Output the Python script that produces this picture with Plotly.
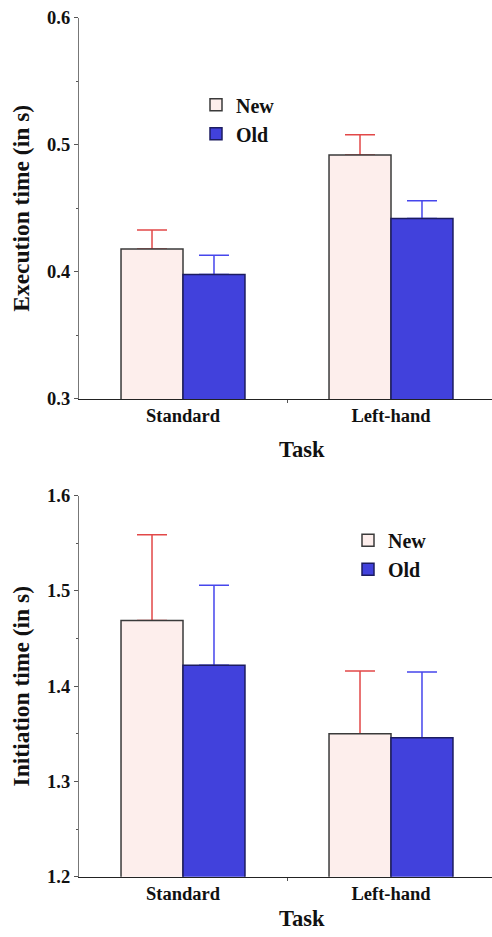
import plotly.graph_objects as go

tasks = ["Standard", "Left-hand"]
x_pos = [0, 1]
groups = ["New", "Old"]

exec_new = [0.418, 0.492]
exec_old = [0.398, 0.442]
exec_new_err = [0.015, 0.016]
exec_old_err = [0.015, 0.014]

init_new = [1.469, 1.350]
init_old = [1.422, 1.346]
init_new_err = [0.090, 0.066]
init_old_err = [0.084, 0.069]

FONT = "Liberation Serif, Times New Roman, serif"
NEW_FILL = "#fdeeec"
NEW_LINE = "#3a3a3a"
OLD_FILL = "#4141dc"
OLD_LINE = "#1c1c60"
NEW_ERR = "#e24848"
OLD_ERR = "#4646ec"

fig = go.Figure()


def add_err(vals, errs, group, errc, xa, ya):
    # error bars drawn underneath the visible bars so only the upper whisker shows
    fig.add_trace(go.Bar(
        x=x_pos, y=vals, name=group, xaxis=xa, yaxis=ya, offsetgroup=group,
        showlegend=False, hoverinfo="skip",
        marker=dict(color="rgba(0,0,0,0)", line=dict(width=0)),
        error_y=dict(type="data", symmetric=False, array=errs,
                     arrayminus=[0] * len(errs), color=errc,
                     thickness=1.5, width=15),
    ))


def add_bars(vals, group, fill, line, xa, ya, legend):
    fig.add_trace(go.Bar(
        x=x_pos, y=vals, name=group, xaxis=xa, yaxis=ya, legend=legend,
        offsetgroup=group,
        marker=dict(color=fill, line=dict(color=line, width=1.5)),
    ))


add_err(exec_new, exec_new_err, "New", NEW_ERR, "x", "y")
add_err(exec_old, exec_old_err, "Old", OLD_ERR, "x", "y")
add_bars(exec_new, "New", NEW_FILL, NEW_LINE, "x", "y", "legend")
add_bars(exec_old, "Old", OLD_FILL, OLD_LINE, "x", "y", "legend")

add_err(init_new, init_new_err, "New", NEW_ERR, "x2", "y2")
add_err(init_old, init_old_err, "Old", OLD_ERR, "x2", "y2")
add_bars(init_new, "New", NEW_FILL, NEW_LINE, "x2", "y2", "legend2")
add_bars(init_old, "Old", OLD_FILL, OLD_LINE, "x2", "y2", "legend2")

W, H = 492, 937
xdom = [79 / W, 1]
xrange = [-0.5, -0.5 + (W - 79) / 208]

xcommon = dict(
    domain=xdom, range=xrange, tickmode="array", tickvals=x_pos, ticktext=tasks,
    ticks="", showline=True, linecolor="#222", linewidth=1.2, showgrid=False,
    zeroline=False, tickfont=dict(size=18.5, family=FONT, color="#111", weight="bold"),
    minor=dict(tickmode="array", tickvals=[0.5], ticks="outside", ticklen=3,
               tickcolor="#555", showgrid=False),
)
ycommon = dict(
    ticks="outside", ticklen=4, tickcolor="#555", showline=True, linecolor="#777",
    linewidth=1.2, showgrid=False, zeroline=False, tickformat=".1f", dtick=0.1,
    tickfont=dict(size=18.5, family=FONT, color="#111", weight="bold"),
    minor=dict(dtick=0.05, ticks="outside", ticklen=2, tickcolor="#555", showgrid=False),
)

fig.update_layout(
    width=W, height=H,
    margin=dict(l=0, r=0, t=0, b=0),
    paper_bgcolor="white", plot_bgcolor="white",
    font=dict(family=FONT, color="#111", weight="bold"),
    barmode="group", bargap=0.404, bargroupgap=0,
    xaxis=dict(anchor="y", **xcommon),
    xaxis2=dict(anchor="y2", **xcommon),
    yaxis=dict(domain=[1 - 397.4 / H, 1 - 7.9 / H], range=[0.3, 0.6], anchor="x",
               title=dict(text="Execution time (in s)", standoff=10,
                          font=dict(size=23.5, family=FONT, weight="bold")),
               **ycommon),
    yaxis2=dict(domain=[1 - 885.6 / H, 1 - 496.3 / H], range=[1.2, 1.6], anchor="x2",
                title=dict(text="Initiation time (in s)", standoff=10,
                           font=dict(size=23.5, family=FONT, weight="bold")),
                **ycommon),
    legend=dict(x=196 / W, y=1 - 77 / H, xanchor="left", yanchor="top",
                bgcolor="rgba(0,0,0,0)", font=dict(size=20, family=FONT, weight="bold"),
                traceorder="normal"),
    legend2=dict(x=348 / W, y=1 - 522 / H, xanchor="left", yanchor="top",
                 bgcolor="rgba(0,0,0,0)", font=dict(size=20, family=FONT, weight="bold"),
                 traceorder="normal"),
    annotations=[
        dict(text="Task", x=302 / W, y=1 - 449.5 / H, xref="paper", yref="paper",
             xanchor="center", yanchor="middle", showarrow=False,
             font=dict(size=22.5, family=FONT, color="#111", weight="bold")),
        dict(text="Task", x=302 / W, y=1 - 928.5 / H, xref="paper", yref="paper",
             xanchor="center", yanchor="middle", showarrow=False,
             font=dict(size=22.5, family=FONT, color="#111", weight="bold")),
    ],
)

fig.write_html("out.html")
